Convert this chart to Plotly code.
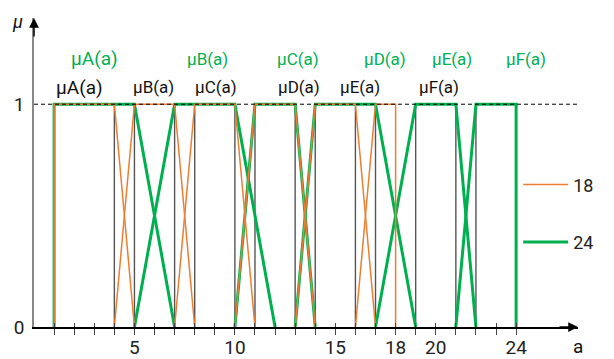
import plotly.graph_objects as go

# ---------------- data ----------------
set_names = ["A", "B", "C", "D", "E", "F"]

# crisp (rectangular) set boundaries
crisp_edges = [1, 4, 5, 7, 8, 10, 11, 13, 14, 16, 17, 19, 21, 22, 24]

# fuzzy partition for universe 18: trapezoid (left foot, left shoulder, right shoulder, right foot)
f18_a = [1, 4, 7, 10, 13, 16]
f18_b = [1, 5, 8, 11, 14, 17]
f18_c = [4, 7, 10, 13, 16, 18]
f18_d = [5, 8, 11, 14, 17, 18]

# fuzzy partition for universe 24
f24_a = [1, 5, 10, 13, 17, 21]
f24_b = [1, 7, 11, 14, 19, 22]
f24_c = [5, 10, 13, 17, 21, 24]
f24_d = [7, 12, 14, 19, 22, 24]

x_tick_marks = list(range(1, 25))
x_tick_label_vals = [5, 10, 15, 18, 20, 24]
y_tick_vals = [0, 1]

label_texts = ["μA(a)", "μB(a)", "μC(a)", "μD(a)", "μE(a)", "μF(a)"]
label_x_crisp = [2.24, 5.93, 9.06, 13.2, 16.25, 20.16]
label_x_24 = [3.0, 8.64, 13.15, 17.45, 20.8, 24.5]

series_names = ["18", "24"]

# ---------------- styles ----------------
ORANGE = "#ED7D31"
GREEN = "#00B050"
CRISP = "#555555"
FONT = "Roboto"


def trapezoids(a, b, c, d):
    xs, ys = [], []
    for p, q, r, s in zip(a, b, c, d):
        xs += [p, q, r, s, None]
        ys += [0, 1, 1, 0, None]
    return xs, ys


def verticals(edges):
    xs, ys = [], []
    for e in edges:
        xs += [e, e, None]
        ys += [0, 1, None]
    return xs, ys


fig = go.Figure()

cx, cy = verticals(crisp_edges)
fig.add_trace(go.Scatter(x=cx, y=cy, mode="lines", line=dict(color=CRISP, width=1.4),
                         showlegend=False, hoverinfo="skip"))

gx, gy = trapezoids(f24_a, f24_b, f24_c, f24_d)
fig.add_trace(go.Scatter(x=gx, y=gy, mode="lines", name=series_names[1],
                         line=dict(color=GREEN, width=3), legendrank=2, legendgroup="g24"))

ox, oy = trapezoids(f18_a, f18_b, f18_c, f18_d)
fig.add_trace(go.Scatter(x=ox, y=oy, mode="lines", name=series_names[0],
                         line=dict(color=ORANGE, width=1.5), legendrank=1, legendgroup="g18"))

# labels
for i, t in enumerate(label_texts):
    size = 19 if i == 0 else 17
    fig.add_annotation(x=label_x_crisp[i], y=1.077, text=t, showarrow=False,
                       font=dict(family=FONT, size=size, color="#111111"))
    fig.add_annotation(x=label_x_24[i], y=1.203, text=t, showarrow=False,
                       font=dict(family=FONT, size=size, color=GREEN))

# dashed line at membership 1
fig.add_shape(type="line", xref="paper", yref="y", x0=0, x1=1, y0=1, y1=1,
              line=dict(color="black", width=1, dash="4px,3px"))

# arrowheads on axes
fig.add_annotation(xref="paper", yref="paper", x=1, y=0, ax=-20, ay=0,
                   axref="pixel", ayref="pixel", text="", showarrow=True,
                   arrowhead=2, arrowsize=1.3, arrowwidth=1.5, arrowcolor="black")
fig.add_annotation(xref="paper", yref="paper", x=0, y=1, ax=0, ay=20,
                   axref="pixel", ayref="pixel", text="", showarrow=True,
                   arrowhead=2, arrowsize=1.3, arrowwidth=1.5, arrowcolor="black")

# axis titles
fig.add_annotation(xref="paper", yref="paper", x=-0.031, y=0.99, text="<i>μ</i>",
                   xanchor="center", yanchor="middle",
                   showarrow=False, font=dict(family=FONT, size=18, color="#111111"))
fig.add_annotation(xref="paper", yref="paper", x=1.0, y=-0.062, text="a",
                   xanchor="center", yanchor="middle",
                   showarrow=False, font=dict(family=FONT, size=19, color="#111111"))

tick_text = [str(v) if v in x_tick_label_vals else "" for v in x_tick_marks]

# the page adds an 8px body margin, so the figure is 8px smaller than the window
fig.update_layout(
    width=606, height=351,
    margin=dict(l=26, r=36, t=10, b=32, autoexpand=False),
    paper_bgcolor="white", plot_bgcolor="white",
    font=dict(family=FONT, size=18, color="#222222"),
    xaxis=dict(range=[0, 27.08], tickvals=x_tick_marks, ticktext=tick_text,
               ticks="outside", ticklen=6, tickwidth=1.3, tickcolor="#444444",
               ticklabelstandoff=-4,
               showline=True, linecolor="black", linewidth=1.5, automargin=False,
               showgrid=False, zeroline=False, tickfont=dict(size=19)),
    xaxis2=dict(overlaying="x", matches="x", anchor="y", side="bottom",
                tickvals=x_tick_marks, ticks="inside", ticklen=4, tickwidth=1.3,
                tickcolor="#444444", showticklabels=False, showgrid=False,
                zeroline=False, showline=False, automargin=False),
    yaxis=dict(range=[0, 1.387], tickvals=y_tick_vals, ticktext=["0", "1"],
               ticks="outside", ticklen=4, tickcolor="rgba(0,0,0,0)",
               showline=True, linecolor="#888888", linewidth=1.5, automargin=False,
               showgrid=False, zeroline=False, tickfont=dict(size=19)),
    legend=dict(x=0.89, y=0.52, xanchor="left", yanchor="top", itemwidth=45,
                font=dict(size=18), tracegroupgap=31, bgcolor="rgba(0,0,0,0)"),
)

# dummy trace so xaxis2 is drawn
fig.add_trace(go.Scatter(x=[None], y=[None], xaxis="x2", showlegend=False, hoverinfo="skip"))

fig.write_html("out.html")
